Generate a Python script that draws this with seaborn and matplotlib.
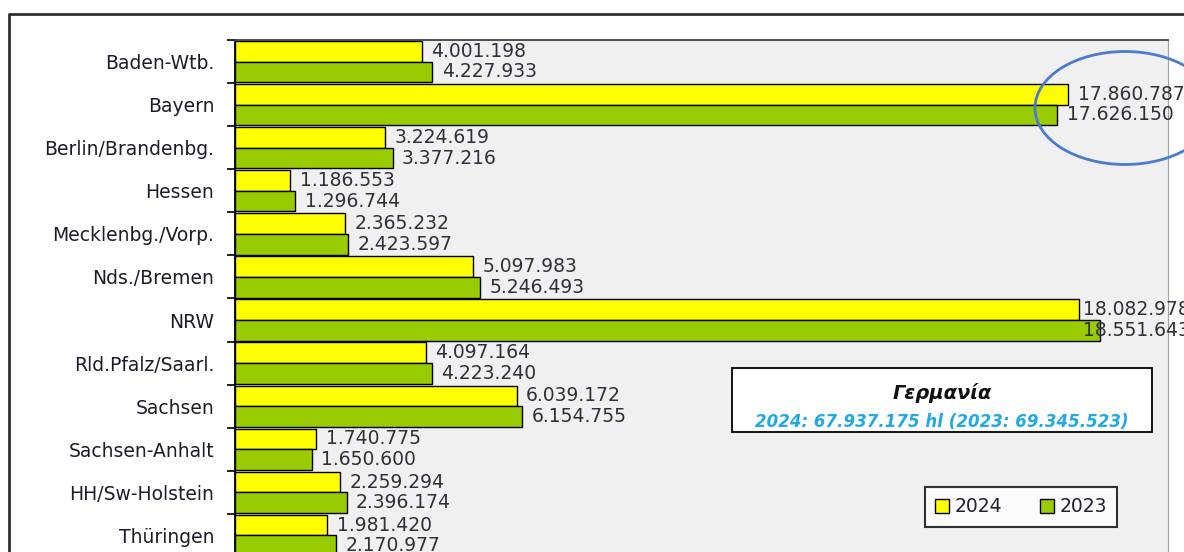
import numpy as np
import pandas as pd
import seaborn as sns
import matplotlib.pyplot as plt
from matplotlib.patches import Ellipse, Rectangle
from matplotlib.lines import Line2D

# Bundesländer und Absatz (hl)
laender = ["Baden-Wtb.", "Bayern", "Berlin/Brandenbg.", "Hessen", "Mecklenbg./Vorp.",
           "Nds./Bremen", "NRW", "Rld.Pfalz/Saarl.", "Sachsen", "Sachsen-Anhalt",
           "HH/Sw-Holstein", "Thüringen"]
werte_2024 = [4001198, 17860787, 3224619, 1186553, 2365232, 5097983,
              18082978, 4097164, 6039172, 1740775, 2259294, 1981420]
werte_2023 = [4227933, 17626150, 3377216, 1296744, 2423597, 5246493,
              18551643, 4223240, 6154755, 1650600, 2396174, 2170977]
jahre = ["2024", "2023"]
farben = {"2024": "#ffff00", "2023": "#99cc00"}
box_titel = "Γερμανία"
box_text = "2024: 67.937.175 hl (2023: 69.345.523)"

df = pd.DataFrame({
    "Land": laender * 2,
    "Jahr": ["2024"] * len(laender) + ["2023"] * len(laender),
    "hl": werte_2024 + werte_2023,
})

def fmt(v):
    return f"{v:,}".replace(",", ".")

W, H = 1184, 552
fig = plt.figure(figsize=(W / 100, H / 100), dpi=100)

def fx(px):
    return px / W

def fy(py):
    return 1 - py / H

ax = fig.add_axes([fx(235), fy(557), fx(1168) - fx(235), fy(40) - fy(557)])
ax.set_facecolor("#f0f0f0")

sns.barplot(data=df, y="Land", x="hl", hue="Jahr", hue_order=jahre, palette=farben,
            orient="h", width=0.96, gap=0, saturation=1, edgecolor="black",
            linewidth=1, ax=ax, order=laender)

ax.set_xlim(0, 20_000_000)
ax.set_ylim(len(laender) - 0.5, -0.5)
ax.set_xlabel("")
ax.set_ylabel("")
ax.set_xticks([])

# Werte-Beschriftung, nicht über den rechten Rand hinaus
xmax_label = 18_180_000
for cont, vals in zip(ax.containers, [werte_2024, werte_2023]):
    for bar, v in zip(cont, vals):
        y = bar.get_y() + bar.get_height() / 2
        x = min(v + 200_000, xmax_label)
        ax.text(x, y, fmt(v), va="center", ha="left", fontsize=13.5,
                color="#30303c", family="DejaVu Sans")

ax.set_yticks(range(len(laender)))
ax.set_yticklabels(laender, fontsize=13.5, color="#1c1c2a", family="DejaVu Sans")
ax.tick_params(axis="y", which="major", length=0, pad=15)
ax.set_yticks(np.arange(-0.5, len(laender), 1), minor=True)
ax.tick_params(axis="y", which="minor", length=6, width=1.2, color="black")

ax.spines["left"].set_color("black")
ax.spines["left"].set_linewidth(1.3)
ax.spines["top"].set_color("#404040")
ax.spines["top"].set_linewidth(1.3)
ax.spines["right"].set_color("#a0a0a0")
ax.spines["bottom"].set_visible(False)

# Legende
leg = ax.legend(loc="center", bbox_to_anchor=(fx(1021), fy(507)),
                bbox_transform=fig.transFigure, ncol=2, frameon=True,
                fancybox=False, edgecolor="black", fontsize=13.5,
                handlelength=0.75, handleheight=0.75, handletextpad=0.3,
                columnspacing=2.0, borderpad=0.55, borderaxespad=0,
                title=None)
leg.get_frame().set_linewidth(1.5)
leg.get_frame().set_facecolor("white")
for t in leg.get_texts():
    t.set_color("#202030")

# Textbox Gesamt
fig.add_artist(Rectangle((fx(732), fy(432)), fx(1152) - fx(732), fy(368) - fy(432),
                         transform=fig.transFigure, facecolor="white",
                         edgecolor="black", linewidth=1.3, zorder=5))
fig.text(fx(942), fy(393), box_titel, ha="center", va="center", fontsize=14,
         style="italic", weight="bold", color="#111111", family="DejaVu Sans", zorder=6)
fig.text(fx(942), fy(422), box_text, ha="center", va="center", fontsize=12,
         style="italic", weight="bold", color="#20a8e8", family="DejaVu Sans", zorder=6)

# Markierung Bayern
fig.add_artist(Ellipse((fx(1125), fy(108)), fx(180), 113 / H, transform=fig.transFigure,
                       fill=False, edgecolor="#4a7bd0", linewidth=2, zorder=7))

# äußerer Rahmen
fig.add_artist(Line2D([fx(9), fx(9), 1], [0, fy(14), fy(14)], transform=fig.transFigure,
                      color="#303030", linewidth=2))

fig.savefig("out.png", dpi=100)
